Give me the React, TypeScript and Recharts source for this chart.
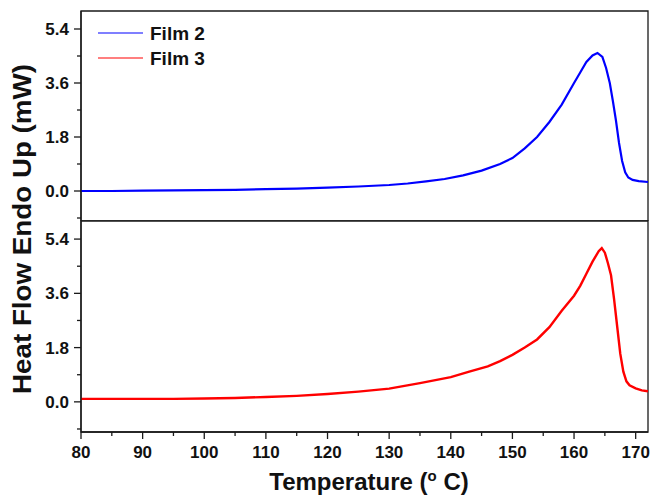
import { LineChart, Line, XAxis, YAxis, ReferenceArea } from "recharts";

// Film 2 (upper panel)
const film2Temps = [80, 85, 90, 95, 100, 105, 110, 115, 120, 125, 130, 133, 136, 139, 142, 145, 148, 150, 152, 154, 156, 158, 160, 161, 162, 163, 163.8, 164.6, 165.2, 165.8, 166.3, 166.8, 167.3, 167.8, 168.3, 168.8, 169.5, 170.5, 172];
const film2Heat = [0.0, 0.0, 0.01, 0.02, 0.03, 0.04, 0.06, 0.08, 0.11, 0.15, 0.2, 0.25, 0.32, 0.4, 0.52, 0.68, 0.9, 1.1, 1.42, 1.8, 2.3, 2.88, 3.6, 3.95, 4.3, 4.52, 4.6, 4.47, 4.1, 3.6, 3.0, 2.35, 1.6, 1.0, 0.62, 0.45, 0.37, 0.33, 0.3];

// Film 3 (lower panel)
const film3Temps = [80, 85, 90, 95, 100, 105, 110, 115, 120, 125, 130, 135, 140, 143, 146, 148, 150, 152, 154, 156, 158, 160, 161, 162, 163, 164, 164.5, 165, 165.5, 166, 166.5, 167, 167.5, 168, 168.5, 169, 170, 171, 172];
const film3Heat = [0.1, 0.1, 0.1, 0.1, 0.11, 0.13, 0.16, 0.2, 0.26, 0.34, 0.44, 0.62, 0.82, 1.0, 1.18, 1.35, 1.56, 1.8, 2.07, 2.48, 3.02, 3.52, 3.85, 4.25, 4.65, 5.0, 5.1, 4.95, 4.6, 4.2, 3.4, 2.5, 1.6, 1.0, 0.68, 0.55, 0.45, 0.38, 0.35];

const xTicks = [80, 85, 90, 95, 100, 105, 110, 115, 120, 125, 130, 135, 140, 145, 150, 155, 160, 165, 170];
const yTicks = [-0.9, 0, 0.9, 1.8, 2.7, 3.6, 4.5, 5.4];

const seriesNames = ["Film 2", "Film 3"];
const seriesColors = ["#0000ff", "#ff0000"];

const film2Data = film2Temps.map((t, i) => ({ t, v: film2Heat[i] }));
const film3Data = film3Temps.map((t, i) => ({ t, v: film3Heat[i] }));

const FONT = "'Liberation Sans', Arial, sans-serif";
const AXIS = "#1a1a1a";

function YTick(props: any) {
  const { x, y, payload } = props;
  const v = payload.value;
  const major = Math.abs(v / 1.8 - Math.round(v / 1.8)) < 1e-6;
  return (
    <g>
      <line x1={x} x2={x - (major ? 7 : 4)} y1={y} y2={y} stroke={AXIS} strokeWidth={1.3} />
      {major && (
        <text x={x - 12} y={y} dy="0.36em" textAnchor="end" fontFamily={FONT} fontWeight="bold" fontSize={17} fill="#111">
          {v.toFixed(1)}
        </text>
      )}
    </g>
  );
}

function XTick(props: any) {
  const { x, y, payload } = props;
  const v = payload.value;
  const major = v % 10 === 0;
  return (
    <g>
      <line x1={x} x2={x} y1={y} y2={y + (major ? 7 : 4)} stroke={AXIS} strokeWidth={1.3} />
      {major && (
        <text x={x} y={y + 26} textAnchor="middle" fontFamily={FONT} fontWeight="bold" fontSize={17} fill="#111">
          {v}
        </text>
      )}
    </g>
  );
}

function Panel({ data, color, height, top, withXAxis, strokeWidth }: any) {
  return (
    <div style={{ position: "absolute", left: 0, top }}>
      <LineChart width={651} height={height} data={data} margin={{ top: 11, right: 3, bottom: 0, left: 0 }}>
        <XAxis
          dataKey="t"
          type="number"
          domain={[80, 172]}
          ticks={xTicks}
          allowDataOverflow
          hide={!withXAxis}
          height={withXAxis ? 66 : 0}
          axisLine={{ stroke: AXIS, strokeWidth: 1.3 }}
          tickLine={false}
          tickSize={0}
          tickMargin={0}
          tick={<XTick />}
          interval={0}
        />
        <YAxis
          type="number"
          domain={[-1, 6]}
          ticks={yTicks}
          allowDataOverflow
          width={81}
          axisLine={{ stroke: AXIS, strokeWidth: 1.3 }}
          tickLine={false}
          tickSize={0}
          tickMargin={0}
          tick={<YTick />}
          interval={0}
        />
        <ReferenceArea x1={80} x2={172} y1={-1} y2={6} fill="none" stroke={AXIS} strokeWidth={1.3} ifOverflow="visible" />
        <Line type="linear" dataKey="v" stroke={color} strokeWidth={strokeWidth} dot={false} isAnimationActive={false} />
      </LineChart>
    </div>
  );
}

export default function App() {
  return (
    <div style={{ position: "absolute", left: 0, top: 0, width: 651, height: 498, background: "#fff" }}>
      <Panel data={film2Data} color={seriesColors[0]} height={221} top={0} withXAxis={false} strokeWidth={2.2} />
      <Panel data={film3Data} color={seriesColors[1]} height={288} top={210} withXAxis strokeWidth={2.4} />
      <svg width={651} height={498} style={{ position: "absolute", left: 0, top: 0, pointerEvents: "none" }}>
        {seriesNames.map((name, i) => (
          <g key={name}>
            <line x1={98} x2={143} y1={33 + i * 25} y2={33 + i * 25} stroke={seriesColors[i]} strokeWidth={1.2} />
            <text x={150} y={33 + i * 25} dy="0.36em" fontFamily={FONT} fontWeight="bold" fontSize={19} fill="#111">
              {name}
            </text>
          </g>
        ))}
        <text
          x={31}
          y={229}
          transform="rotate(-90, 31, 229)"
          textAnchor="middle"
          fontFamily={FONT}
          fontWeight="bold"
          fontSize={25}
          textLength={330}
          lengthAdjust="spacingAndGlyphs"
          fill="#111"
        >
          Heat Flow Endo Up (mW)
        </text>
        <text x={369} y={490} textAnchor="middle" fontFamily={FONT} fontWeight="bold" fontSize={24} fill="#111">
          Temperature (<tspan fontSize={15} dy={-9}>o</tspan>
          <tspan dy={9}> C)</tspan>
        </text>
      </svg>
    </div>
  );
}
